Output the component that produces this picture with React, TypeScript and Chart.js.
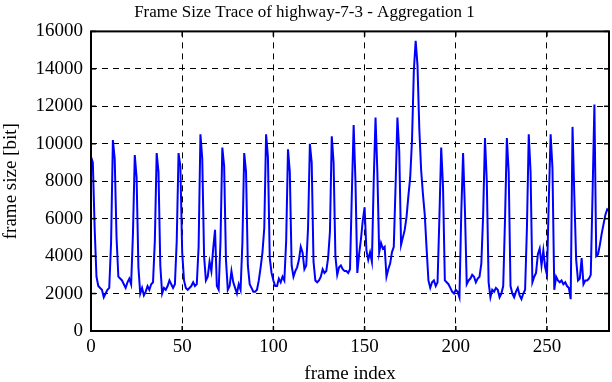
import React, { useEffect, useRef } from "react";
import { Chart, registerables } from "chart.js";

Chart.register(...registerables);

const titleText = "Frame Size Trace of highway-7-3 - Aggregation 1";
const xTitle = "frame index";
const yTitle = "frame size [bit]";

const xTicks = [0, 50, 100, 150, 200, 250];
const yTicks = [0, 2000, 4000, 6000, 8000, 10000, 12000, 14000, 16000];

// frame sizes (bit), frames 0..284
const frameSizes = [
  9300, 9000, 5500, 2900, 2400, 2300, 2200, 1800, 2000, 2200, 2300, 4700,
  10200, 9200, 5000, 2900, 2800, 2700, 2500, 2300, 2600, 2800, 2500, 5200,
  9400, 8200, 3400, 2000, 2300, 1900, 2100, 2400, 2200, 2500, 2600, 4800,
  9500, 8500, 3500, 2000, 2300, 2200, 2400, 2700, 2500, 2300, 2500, 4800,
  9500, 8800, 4200, 2700, 2300, 2200, 2300, 2400, 2600, 2400, 2500, 4500,
  10500, 9200, 4000, 2700, 2900, 3700, 3200, 4400, 5400, 2400, 2200, 4800,
  9800, 8800, 3800, 2200, 2400, 3200, 2600, 2300, 2000, 2500, 2200, 4700,
  9500, 8500, 3500, 2500, 2300, 2100, 2100, 2200, 2700, 3400, 4200, 5500,
  10500, 9300, 3900, 3100, 2700, 2400, 2400, 2800, 2600, 2900, 2700, 4800,
  9700, 8500, 3500, 2900, 3200, 3400, 3800, 4500, 4200, 3300, 3500, 5500,
  10000, 9000, 3700, 2700, 2600, 2700, 2900, 3300, 3100, 3200, 3900, 5300,
  10400, 9000, 4000, 3000, 3400, 3500, 3300, 3200, 3200, 3100, 3300, 7300,
  11000, 8000, 3100, 4100, 4900, 5900, 6600, 4300, 3800, 4200, 3700, 8000,
  11400, 8500, 4200, 4700, 4400, 4500, 2900, 3300, 3600, 4200, 4500, 7800,
  11400, 9600, 4600, 5000, 5400, 6100, 7200, 8200, 10200, 13900, 15500, 14200,
  10800, 8600, 7300, 6200, 4400, 2700, 2300, 2600, 2700, 2400, 2600, 6000,
  9800, 7700, 2700, 2600, 2500, 2300, 2100, 2000, 2200, 2100, 1800, 6300,
  9500, 6500, 2500, 2700, 2800, 3000, 2900, 2600, 2800, 2900, 3600, 6200,
  10300, 8000, 2600, 1800, 2200, 2100, 2300, 2200, 1800, 2000, 2400, 6000,
  10300, 8500, 2400, 2000, 1800, 2100, 2300, 1900, 1700, 2000, 2200, 5500,
  10500, 8500, 2600, 2900, 3100, 4100, 4400, 3500, 4300, 3400, 3000, 7000,
  10500, 8700, 2200, 2900, 2700, 2600, 2700, 2500, 2600, 2400, 2300, 1700,
  10900, 7200, 3800, 2700, 2800, 3900, 2500, 2700, 2700, 2800, 3000, 7400,
  12100, 4000, 4100, 4600, 5200, 5700, 6200, 6500, 6400,
];

const FONT = "'Liberation Serif', 'Times New Roman', serif";

export default function App() {
  const ref = useRef<HTMLCanvasElement>(null);

  useEffect(() => {
    document.body.style.margin = "0";
    const canvas = ref.current;
    if (!canvas) return;

    const boxPlugin = {
      id: "gnuBox",
      afterDatasetsDraw(chart: any) {
        const { ctx, chartArea: a, scales } = chart;
        ctx.save();
        ctx.setLineDash([]);
        ctx.strokeStyle = "#000";
        ctx.lineWidth = 1.5;
        const seg = (x1: number, y1: number, x2: number, y2: number) => {
          ctx.beginPath();
          ctx.moveTo(x1, y1);
          ctx.lineTo(x2, y2);
          ctx.stroke();
        };
        const tl = 5;
        for (const v of yTicks) {
          const y = scales.y.getPixelForValue(v);
          seg(a.left, y, a.left + tl, y);
          seg(a.right - tl, y, a.right, y);
        }
        for (const v of xTicks) {
          const x = scales.x.getPixelForValue(v);
          seg(x, a.bottom, x, a.bottom - tl);
          seg(x, a.top, x, a.top + tl);
        }
        ctx.lineWidth = 2;
        ctx.strokeRect(a.left, a.top, a.right - a.left, a.bottom - a.top);
        ctx.restore();
      },
    };

    const chart = new Chart(canvas, {
      type: "line",
      data: {
        datasets: [
          {
            data: frameSizes.map((v, i) => ({ x: i, y: v })),
            borderColor: "#0000ff",
            borderWidth: 2,
            pointRadius: 0,
            tension: 0,
            fill: false,
          },
        ],
      },
      options: {
        responsive: false,
        animation: false,
        devicePixelRatio: 1,
        layout: { padding: { left: 0, right: 3, top: 0, bottom: 0 } },
        plugins: {
          legend: { display: false },
          tooltip: { enabled: false },
          title: {
            display: true,
            text: titleText,
            color: "#000",
            font: { family: FONT, size: 17, weight: "normal" },
            padding: { top: 2, bottom: 9 },
          },
        },
        scales: {
          x: {
            type: "linear",
            min: 0,
            max: 284,
            afterBuildTicks: (s: any) => {
              s.ticks = xTicks.map((v) => ({ value: v }));
            },
            afterFit: (s: any) => {
              s.height = 51;
            },
            ticks: {
              color: "#000",
              font: { family: FONT, size: 19 },
              padding: 5,
              maxRotation: 0,
              autoSkip: false,
              callback: (v: any) => String(v),
            },
            grid: { color: "#000", lineWidth: 1, drawTicks: false },
            border: { display: false, dash: [6, 5] },
            title: {
              display: true,
              text: xTitle,
              color: "#000",
              font: { family: FONT, size: 19 },
              padding: { top: 0, bottom: -3 },
            },
          },
          y: {
            type: "linear",
            min: 0,
            max: 16000,
            afterBuildTicks: (s: any) => {
              s.ticks = yTicks.map((v) => ({ value: v }));
            },
            afterFit: (s: any) => {
              s.width = 91;
            },
            ticks: {
              color: "#000",
              font: { family: FONT, size: 19 },
              padding: 8,
              autoSkip: false,
              callback: (v: any) => String(v),
            },
            grid: { color: "#000", lineWidth: 1, drawTicks: false },
            border: { display: false, dash: [6, 5] },
            title: {
              display: true,
              text: yTitle,
              color: "#000",
              font: { family: FONT, size: 19 },
              padding: { top: 0, bottom: 0 },
            },
          },
        },
      },
      plugins: [boxPlugin],
    });

    return () => chart.destroy();
  }, []);

  return (
    <div style={{ width: 612, height: 382 }}>
      <canvas ref={ref} width={612} height={382} />
    </div>
  );
}
